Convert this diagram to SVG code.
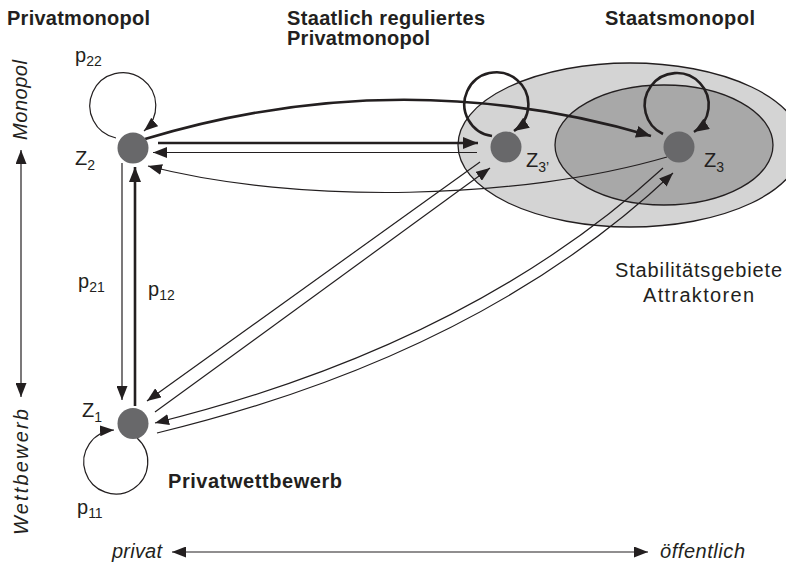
<svg xmlns="http://www.w3.org/2000/svg" width="786" height="565" viewBox="0 0 786 565">
<style>
text{font-family:"Liberation Sans",Arial,sans-serif;fill:#231f20}
.t{font-size:20px;font-weight:bold}
.l{font-size:20px}
.s{font-size:14px}
.i{font-size:20px;font-style:italic}
.thin{fill:none;stroke:#231f20;stroke-width:1.2}
.thick{fill:none;stroke:#231f20;stroke-width:2.6}
.node{fill:#68686a}
</style>
<defs>
<marker id="ah" markerUnits="userSpaceOnUse" markerWidth="15" markerHeight="11" refX="14" refY="5.5" orient="auto-start-reverse">
<path d="M0,0 L14,5.5 L0,11 z" fill="#231f20"/>
</marker>
<marker id="ahb" markerUnits="userSpaceOnUse" markerWidth="16" markerHeight="12" refX="15" refY="6" orient="auto">
<path d="M0,0 L15,6 L0,12 z" fill="#231f20"/>
</marker>
</defs>

<g id="areas">
<ellipse cx="630" cy="145" rx="172" ry="82" fill="#d4d4d4" stroke="#231f20" stroke-width="1.3"/>
<ellipse cx="664" cy="145" rx="109" ry="60" fill="#a8a8a8" stroke="#231f20" stroke-width="1.3"/>
</g>

<g id="connectors">
<path class="thin" d="M116,138 A33,33 0 1 1 144,131" marker-end="url(#ah)"/>
<path class="thin" d="M137,438 A32,32 0 1 1 114,430" marker-end="url(#ah)"/>
<path class="thick" d="M492,136 A32,32 0 1 1 514,131" marker-end="url(#ahb)"/>
<path class="thick" d="M663,134 A32,32 0 1 1 694,132" marker-end="url(#ahb)"/>
<path class="thick" d="M145,139 Q400,62 651,136" marker-end="url(#ahb)"/>
<path class="thick" d="M158,143 L478,143" marker-end="url(#ahb)"/>
<path class="thin" d="M477,152.5 L153,152.5" marker-end="url(#ah)"/>
<path class="thin" d="M667,157 C520,200 300,205 148,166" marker-end="url(#ah)"/>
<path class="thin" d="M122,163 L122,400" marker-end="url(#ah)"/>
<path class="thick" d="M135,406 L135,167" marker-end="url(#ahb)"/>
<path class="thin" d="M480,162 L147,401" marker-end="url(#ah)"/>
<path class="thin" d="M155,412 L490,168" marker-end="url(#ah)"/>
<path class="thin" d="M663,168 Q470,345 155,423" marker-end="url(#ah)"/>
<path class="thin" d="M157,433 Q480,355 673,173" marker-end="url(#ah)"/>
<path class="thin" d="M21,150 L21,397" marker-start="url(#ah)" marker-end="url(#ah)"/>
<path class="thin" d="M172,552 L648,552" marker-start="url(#ah)" marker-end="url(#ah)"/>
</g>

<g id="Z2"><circle class="node" cx="133" cy="148" r="15.5"/>
<text class="l" x="75" y="165">Z<tspan class="s" dy="5">2</tspan></text>
<text class="l" x="75" y="62">p<tspan class="s" dy="4">22</tspan></text></g>
<g id="Z1"><circle class="node" cx="133" cy="423.5" r="15.5"/>
<text class="l" x="82" y="417">Z<tspan class="s" dy="5">1</tspan></text>
<text class="l" x="77" y="514">p<tspan class="s" dy="4">11</tspan></text></g>
<g id="Z3p"><circle class="node" cx="506" cy="147" r="15.5"/>
<text class="l" x="526" y="167">Z<tspan class="s" dy="5">3’</tspan></text></g>
<g id="Z3"><circle class="node" cx="679" cy="147" r="15.5"/>
<text class="l" x="704" y="167">Z<tspan class="s" dy="5">3</tspan></text></g>

<g id="labels">
<text class="l" x="78" y="288">p<tspan class="s" dy="4">21</tspan></text>
<text class="l" x="148" y="296">p<tspan class="s" dy="4">12</tspan></text>
<text class="t" x="7" y="25" textLength="143">Privatmonopol</text>
<text class="t" x="287" y="25" textLength="198">Staatlich reguliertes</text>
<text class="t" x="287" y="45" textLength="143">Privatmonopol</text>
<text class="t" x="605" y="25" textLength="150">Staatsmonopol</text>
<text class="t" x="168" y="488" textLength="174">Privatwettbewerb</text>
<text class="l" x="615" y="277" textLength="167">Stabilitätsgebiete</text>
<text class="l" x="643" y="302" textLength="111">Attraktoren</text>
<text class="i" transform="translate(27,100) rotate(-90)" text-anchor="middle" textLength="80">Monopol</text>
<text class="i" transform="translate(28,472) rotate(-90)" text-anchor="middle" textLength="126">Wettbewerb</text>
<text class="i" x="112" y="558" textLength="50">privat</text>
<text class="i" x="660" y="558" textLength="85">öffentlich</text>
</g>
</svg>
